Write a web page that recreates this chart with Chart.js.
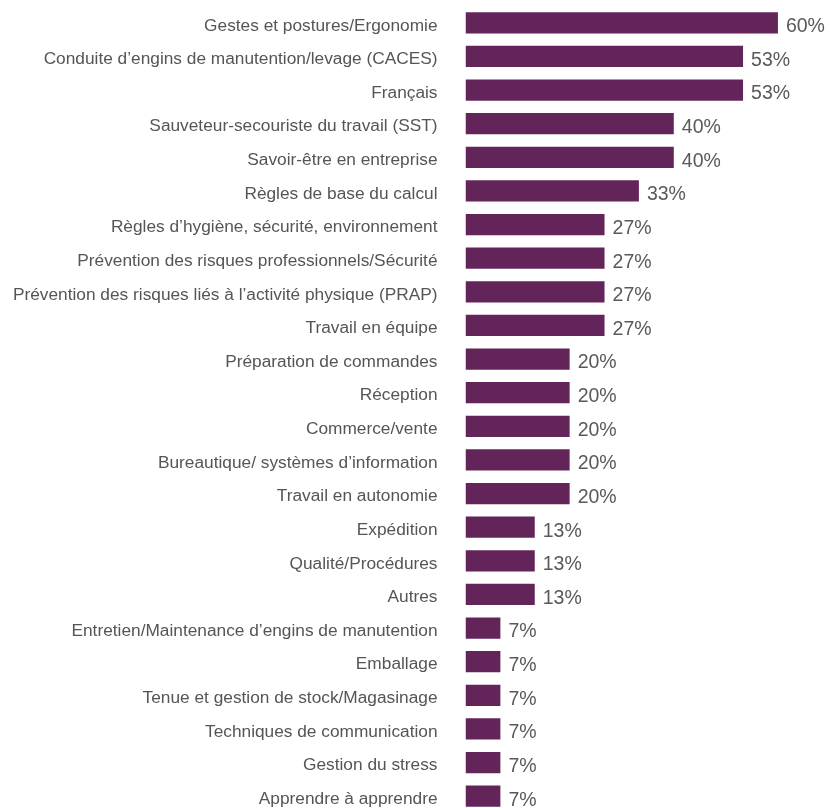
<!DOCTYPE html>
<html>
<head>
<meta charset="utf-8">
<script src="https://cdn.jsdelivr.net/npm/chart.js@4/dist/chart.umd.min.js"></script>
<style>
  html, body { margin: 0; padding: 0; background: #fff; overflow: hidden; }
  #wrap { width: 830px; height: 813px; }
</style>
</head>
<body>
<div id="wrap"><canvas id="barChart" width="830" height="813"></canvas></div>
<script>
// Categories and shares (%)
const categories = [
    'Gestes et postures/Ergonomie',
    'Conduite d\u2019engins de manutention/levage (CACES)',
    'Français',
    'Sauveteur-secouriste du travail (SST)',
    'Savoir-être en entreprise',
    'Règles de base du calcul',
    'Règles d\u2019hygiène, sécurité, environnement',
    'Prévention des risques professionnels/Sécurité',
    'Prévention des risques liés à l\u2019activité physique (PRAP)',
    'Travail en équipe',
    'Préparation de commandes',
    'Réception',
    'Commerce/vente',
    'Bureautique/ systèmes d\u2019information',
    'Travail en autonomie',
    'Expédition',
    'Qualité/Procédures',
    'Autres',
    'Entretien/Maintenance d\u2019engins de manutention',
    'Emballage',
    'Tenue et gestion de stock/Magasinage',
    'Techniques de communication',
    'Gestion du stress',
    'Apprendre à apprendre'
];
const shares = [60, 53.3, 53.3, 40, 40, 33.3, 26.7, 26.7, 26.7, 26.7,
    20, 20, 20, 20, 20, 13.3, 13.3, 13.3, 6.7, 6.7, 6.7, 6.7, 6.7, 6.7];

Chart.defaults.font.family = "'Liberation Sans', Arial, sans-serif";

// Value labels to the right of each bar
const valueLabels = {
    id: 'valueLabels',
    afterDatasetsDraw(chart) {
        const ctx = chart.ctx;
        const meta = chart.getDatasetMeta(0);
        ctx.save();
        ctx.font = "19.5px 'Liberation Sans', Arial, sans-serif";
        ctx.fillStyle = '#595959';
        ctx.textAlign = 'left';
        ctx.textBaseline = 'middle';
        meta.data.forEach((bar, i) => {
            ctx.fillText(Math.round(shares[i]) + '%', bar.x + 8, bar.y + 4);
        });
        ctx.restore();
    }
};

new Chart(document.getElementById('barChart').getContext('2d'), {
    type: 'bar',
    data: {
        labels: categories,
        datasets: [{
            data: shares,
            backgroundColor: '#63245a',
            categoryPercentage: 1,
            barPercentage: 0.63
        }]
    },
    options: {
        indexAxis: 'y',
        responsive: false,
        animation: false,
        layout: { padding: { top: 6, left: 0, right: 0, bottom: 0 } },
        plugins: { legend: { display: false }, tooltip: { enabled: false } },
        scales: {
            x: { display: false, min: 0, max: 70 },
            y: {
                grid: { display: false, drawTicks: false },
                border: { display: false },
                ticks: { color: '#555', font: { size: 17.3 }, padding: 28, labelOffset: 3, autoSkip: false },
                afterFit(scale) {
                    scale.width = 465.5;
                    scale.paddingTop = 0;
                    scale.paddingBottom = 0;
                }
            }
        }
    },
    plugins: [valueLabels]
});
</script>
</body>
</html>
